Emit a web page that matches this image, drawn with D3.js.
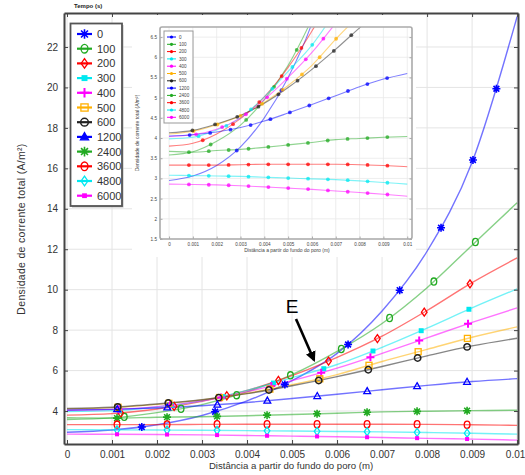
<!DOCTYPE html>
<html>
<head>
<meta charset="utf-8">
<script src="https://cdn.jsdelivr.net/npm/d3@7"></script>
<style>
  body { margin: 0; background: #fff; }
  text { font-family: "Liberation Sans", Arial, sans-serif; }
</style>
</head>
<body>
<svg id="chart" width="525" height="475"></svg>
<script>
// distância a partir do fundo do poro (m)
const distancias = [0, 0.001, 0.002, 0.003, 0.004, 0.005, 0.006, 0.007, 0.008, 0.009, 0.01];
// tempos (s) da legenda
const tempos = ['0', '100', '200', '300', '400', '500', '600', '1200', '2400', '3600', '4800', '6000'];

// densidade de corrente total (A/m²) para cada tempo
const j0    = [2.95, 3.06, 3.32, 3.78, 4.50, 5.50, 6.85, 8.95, 11.9, 16.3, 23.5];
const j100  = [3.58, 3.66, 3.92, 4.32, 4.95, 5.80, 6.95, 8.33, 10.1, 12.2, 14.3];
const j200  = [3.80, 3.87, 4.10, 4.48, 5.02, 5.75, 6.65, 7.70, 8.97, 10.35, 11.57];
const j300  = [3.98, 4.02, 4.20, 4.50, 5.02, 5.65, 6.30, 7.15, 8.10, 9.10, 10.04];
const j400  = [4.04, 4.08, 4.22, 4.50, 4.95, 5.50, 6.12, 6.85, 7.62, 8.38, 9.10];
const j500  = [4.10, 4.17, 4.33, 4.55, 4.88, 5.30, 5.80, 6.45, 7.05, 7.65, 8.16];
const j600  = [4.13, 4.19, 4.35, 4.56, 4.86, 5.25, 5.70, 6.20, 6.73, 7.22, 7.60];
const j1200 = [4.05, 4.08, 4.15, 4.26, 4.42, 4.62, 4.83, 5.05, 5.27, 5.46, 5.60];
const j2400 = [3.67, 3.65, 3.69, 3.72, 3.77, 3.83, 3.89, 3.96, 3.99, 4.02, 4.04];
const j3600 = [3.33, 3.33, 3.33, 3.34, 3.35, 3.35, 3.35, 3.35, 3.34, 3.32, 3.29];
const j4800 = [3.08, 3.07, 3.06, 3.05, 3.03, 3.01, 2.99, 2.97, 2.94, 2.90, 2.86];
const j6000 = [2.86, 2.85, 2.84, 2.82, 2.79, 2.76, 2.73, 2.69, 2.65, 2.61, 2.56];

const dados = [j0, j100, j200, j300, j400, j500, j600, j1200, j2400, j3600, j4800, j6000];

// estilo de cada curva
const cores = ['#0000ff', '#22aa22', '#ff0000', '#00e8f0', '#ff00ff', '#ffb000', '#222222',
               '#0000ff', '#22aa22', '#ff0000', '#00e8f0', '#ff00ff'];
const simbolos = ['star', 'circle', 'diamond', 'sqfill', 'plus', 'square', 'octagon',
                  'triangle', 'star', 'circle', 'diamond', 'sqsmall'];

// ticks
const xTicks = d3.range(0, 11).map(i => i / 1000);
const yTicks = [4, 6, 8, 10, 12, 14, 16, 18, 20, 22];
const yTicksInset = [1.5, 2, 2.5, 3, 3.5, 4, 4.5, 5, 5.5, 6, 6.5];

const svg = d3.select('#chart');
const fmtX = d => d === 0 ? '0' : String(+d.toFixed(3));

// desenha um marcador
function marker(g, shape, color, cx, cy, s, cheio) {
    const m = g.append('g').attr('transform', `translate(${cx},${cy})`);
    const sw = 1.3;
    switch (shape) {
        case 'star': {
            const d = s * 0.72;
            m.append('path')
                .attr('d', `M${-s},0H${s}M0,${-s}V${s}M${-d},${-d}L${d},${d}M${-d},${d}L${d},${-d}`)
                .attr('stroke', color).attr('stroke-width', 1.6).attr('fill', 'none');
            break;
        }
        case 'circle':
            m.append('ellipse').attr('rx', s * 0.72).attr('ry', s * 0.9)
                .attr('fill', 'none').attr('stroke', color).attr('stroke-width', sw);
            break;
        case 'octagon':
            m.append('circle').attr('r', s * 0.8)
                .attr('fill', 'none').attr('stroke', color).attr('stroke-width', 1.5);
            break;
        case 'diamond':
            m.append('path').attr('d', `M0,${-s}L${s * 0.7},0L0,${s}L${-s * 0.7},0Z`)
                .attr('fill', 'none').attr('stroke', color).attr('stroke-width', sw);
            break;
        case 'sqfill':
            m.append('rect').attr('x', -s * 0.62).attr('y', -s * 0.62)
                .attr('width', s * 1.24).attr('height', s * 1.24).attr('fill', color);
            break;
        case 'sqsmall':
            m.append('rect').attr('x', -s * 0.5).attr('y', -s * 0.5)
                .attr('width', s).attr('height', s).attr('fill', color);
            break;
        case 'plus':
            m.append('path').attr('d', `M${-s},0H${s}M0,${-s}V${s}`)
                .attr('stroke', color).attr('stroke-width', 2).attr('fill', 'none');
            break;
        case 'square':
            m.append('rect').attr('x', -s * 0.75).attr('y', -s * 0.75)
                .attr('width', s * 1.5).attr('height', s * 1.5)
                .attr('fill', 'none').attr('stroke', color).attr('stroke-width', sw);
            break;
        case 'triangle':
            m.append('path').attr('d', `M0,${-s * 0.9}L${s * 0.85},${s * 0.6}L${-s * 0.85},${s * 0.6}Z`)
                .attr('fill', cheio ? color : 'none').attr('stroke', color).attr('stroke-width', sw);
            break;
    }
}

// marcadores distribuídos ao longo do comprimento da curva
function pontosNaCurva(node, n, x0, x1, y0, y1) {
    const L = node.getTotalLength();
    const pts = [];
    for (let k = 1; k < n; k++) {
        const p = node.getPointAtLength(k * L / n);
        if (p.x >= x0 && p.x <= x1 && p.y >= y0 && p.y <= y1) pts.push(p);
    }
    return pts;
}

// ---------------- gráfico principal ----------------
const X0 = 64, X1 = 518, Y0 = 13, Y1 = 444;
const x = d3.scaleLinear().domain([-0.0000667, 0.01002]).range([X0, X1]);
const y = d3.scaleLinear().domain([2.37, 23.68]).range([Y1, Y0]);

svg.append('defs').append('clipPath').attr('id', 'clipMain')
    .append('rect').attr('x', X0).attr('y', Y0).attr('width', X1 - X0).attr('height', Y1 - Y0);

// grade
const grid = svg.append('g').attr('stroke', '#e4e4e4').attr('stroke-width', 1);
xTicks.forEach(t => grid.append('line').attr('x1', x(t)).attr('x2', x(t)).attr('y1', Y0).attr('y2', Y1));
yTicks.forEach(t => grid.append('line').attr('x1', X0).attr('x2', X1).attr('y1', y(t)).attr('y2', y(t)));

const linha = d3.line().x((d, i) => x(distancias[i])).y(d => y(d)).curve(d3.curveMonotoneX);
const curvas = svg.append('g').attr('clip-path', 'url(#clipMain)');
const marcas = svg.append('g');

dados.forEach((serie, i) => {
    const p = curvas.append('path')
        .attr('d', linha(serie))
        .attr('fill', 'none')
        .attr('stroke', cores[i])
        .attr('stroke-opacity', 0.55)
        .attr('stroke-width', 1.4);
    pontosNaCurva(p.node(), 9, X0, X1, Y0, Y1)
        .forEach(pt => marker(marcas, simbolos[i], cores[i], pt.x, pt.y, 4));
});

// eixos
function estiloEixo(g) {
    g.select('.domain').attr('stroke', '#444').attr('stroke-width', 2);
    g.selectAll('.tick line').attr('stroke', '#444');
    g.selectAll('.tick text').attr('fill', '#333').style('font-size', '10px')
        .style('font-family', '"Liberation Sans", Arial, sans-serif');
}
const eixoX = svg.append('g').attr('transform', `translate(0,${Y1})`)
    .call(d3.axisBottom(x).tickValues(xTicks).tickFormat(fmtX).tickSizeInner(-4).tickSizeOuter(0).tickPadding(7))
    .call(estiloEixo);
// último rótulo encostado à margem direita
eixoX.selectAll('.tick text').filter(d => d === 0.01).attr('dx', -2);

svg.append('g').attr('transform', `translate(0,${Y0})`)
    .call(d3.axisTop(x).tickValues(xTicks).tickFormat('').tickSizeInner(-4).tickSizeOuter(0))
    .call(estiloEixo);
svg.append('g').attr('transform', `translate(${X0},0)`)
    .call(d3.axisLeft(y).tickValues(yTicks).tickSizeInner(-4).tickSizeOuter(0).tickPadding(6))
    .call(estiloEixo);
svg.append('g').attr('transform', `translate(${X1},0)`)
    .call(d3.axisRight(y).tickValues(yTicks).tickFormat('').tickSizeInner(-4).tickSizeOuter(0))
    .call(estiloEixo);

svg.append('text').attr('x', 291).attr('y', 469).attr('text-anchor', 'middle')
    .style('font-size', '9.6px').attr('fill', '#333')
    .text('Distância a partir do fundo do poro (m)');
svg.append('text').attr('transform', 'translate(25,229) rotate(-90)').attr('text-anchor', 'middle')
    .style('font-size', '10.5px').attr('fill', '#333').attr('letter-spacing', '0.3px')
    .text('Densidade de corrente total (A/m²)');
svg.append('text').attr('x', 74).attr('y', 8).style('font-size', '6px').style('font-weight', 'bold')
    .attr('fill', '#222').text('Tempo (s)');

// anotação E
svg.append('defs').append('marker').attr('id', 'seta').attr('viewBox', '0 0 10 10')
    .attr('refX', 8).attr('refY', 5).attr('markerWidth', 4).attr('markerHeight', 4).attr('orient', 'auto')
    .append('path').attr('d', 'M0,0L10,5L0,10Z').attr('fill', '#000');
svg.append('text').attr('x', 292).attr('y', 313).attr('text-anchor', 'middle')
    .style('font-size', '19px').attr('fill', '#000').text('E');
svg.append('line').attr('x1', 296).attr('y1', 319).attr('x2', 314).attr('y2', 360)
    .attr('stroke', '#000').attr('stroke-width', 2.6).attr('marker-end', 'url(#seta)');

// ---------------- gráfico inserido ----------------
svg.append('rect').attr('x', 132).attr('y', 15).attr('width', 284).attr('height', 242).attr('fill', '#fff');

const I0 = 160, I1 = 412, J0 = 27, J1 = 239;
const xi = d3.scaleLinear().domain([-0.00038, 0.0102]).range([I0, I1]);
const yi = d3.scaleLinear().domain([1.5, 6.75]).range([J1, J0]);

svg.select('defs').append('clipPath').attr('id', 'clipInset')
    .append('rect').attr('x', I0).attr('y', J0).attr('width', I1 - I0).attr('height', J1 - J0);

const gridI = svg.append('g').attr('stroke', '#e8e8e8').attr('stroke-width', 0.8);
xTicks.forEach(t => gridI.append('line').attr('x1', xi(t)).attr('x2', xi(t)).attr('y1', J0).attr('y2', J1));
yTicksInset.forEach(t => gridI.append('line').attr('x1', I0).attr('x2', I1).attr('y1', yi(t)).attr('y2', yi(t)));

const linhaI = d3.line().x((d, i) => xi(distancias[i])).y(d => yi(d)).curve(d3.curveMonotoneX);
const curvasI = svg.append('g').attr('clip-path', 'url(#clipInset)');
const marcasI = svg.append('g');
dados.forEach((serie, i) => {
    const p = curvasI.append('path')
        .attr('d', linhaI(serie))
        .attr('fill', 'none')
        .attr('stroke', cores[i])
        .attr('stroke-opacity', 0.5)
        .attr('stroke-width', 1.1);
    pontosNaCurva(p.node(), 12, I0, I1, J0, J1).forEach(pt => {
        marcasI.append('circle').attr('cx', pt.x).attr('cy', pt.y).attr('r', 1.9)
            .attr('fill', cores[i]).attr('fill-opacity', 0.75);
    });
});

function estiloEixoI(g) {
    g.select('.domain').remove();
    g.selectAll('.tick line').attr('stroke', '#777').attr('stroke-width', 0.6);
    g.selectAll('.tick text').attr('fill', '#444').style('font-size', '4.6px')
        .style('font-family', '"Liberation Sans", Arial, sans-serif');
}
svg.append('g').attr('transform', `translate(0,${J1})`)
    .call(d3.axisBottom(xi).tickValues(xTicks).tickFormat(fmtX).tickSizeInner(-2.5).tickSizeOuter(0).tickPadding(4))
    .call(estiloEixoI);
svg.append('g').attr('transform', `translate(${I0},0)`)
    .call(d3.axisLeft(yi).tickValues(yTicksInset).tickFormat(d => String(d)).tickSizeInner(-2.5).tickSizeOuter(0).tickPadding(3))
    .call(estiloEixoI);
svg.append('g').attr('transform', `translate(${I1},0)`)
    .call(d3.axisRight(yi).tickValues(yTicksInset).tickFormat('').tickSizeInner(-2.5).tickSizeOuter(0))
    .call(estiloEixoI);

svg.append('rect').attr('x', I0).attr('y', J0).attr('width', I1 - I0).attr('height', J1 - J0)
    .attr('rx', 2).attr('fill', 'none').attr('stroke', '#aaa').attr('stroke-width', 1.6);

svg.append('text').attr('x', 287).attr('y', 252).attr('text-anchor', 'middle')
    .style('font-size', '5px').attr('fill', '#444')
    .text('Distância a partir do fundo do poro (m)');
svg.append('text').attr('transform', 'translate(139,133) rotate(-90)').attr('text-anchor', 'middle')
    .style('font-size', '5px').attr('fill', '#444')
    .text('Densidade de corrente total (A/m²)');

// legenda do gráfico inserido
const legI = svg.append('g');
legI.append('rect').attr('x', 164).attr('y', 31).attr('width', 29).attr('height', 92)
    .attr('fill', '#fff').attr('stroke', '#999').attr('stroke-width', 1);
tempos.forEach((t, i) => {
    const ly = 37 + i * 7.3;
    legI.append('line').attr('x1', 167).attr('x2', 176).attr('y1', ly).attr('y2', ly)
        .attr('stroke', cores[i]).attr('stroke-width', 1);
    legI.append('circle').attr('cx', 171.5).attr('cy', ly).attr('r', 1.6).attr('fill', cores[i]);
    legI.append('text').attr('x', 179).attr('y', ly + 1.6).style('font-size', '4.6px')
        .attr('fill', '#444').text(t);
});

// ---------------- legenda principal ----------------
const leg = svg.append('g');
leg.append('rect').attr('x', 72).attr('y', 25).attr('width', 51.5).attr('height', 182.5)
    .attr('fill', '#bbb');
leg.append('rect').attr('x', 70.5).attr('y', 23.5).attr('width', 51.5).attr('height', 182.5)
    .attr('fill', '#fff').attr('stroke', '#555').attr('stroke-width', 1.8);
tempos.forEach((t, i) => {
    const ly = 34 + i * 14.7;
    leg.append('line').attr('x1', 77).attr('x2', 92).attr('y1', ly).attr('y2', ly)
        .attr('stroke', cores[i]).attr('stroke-width', 2.2);
    marker(leg, simbolos[i], cores[i], 84.5, ly, 4.8, true);
    leg.append('text').attr('x', 97).attr('y', ly + 4).style('font-size', '11px')
        .attr('fill', '#333').text(t);
});
</script>
</body>
</html>
